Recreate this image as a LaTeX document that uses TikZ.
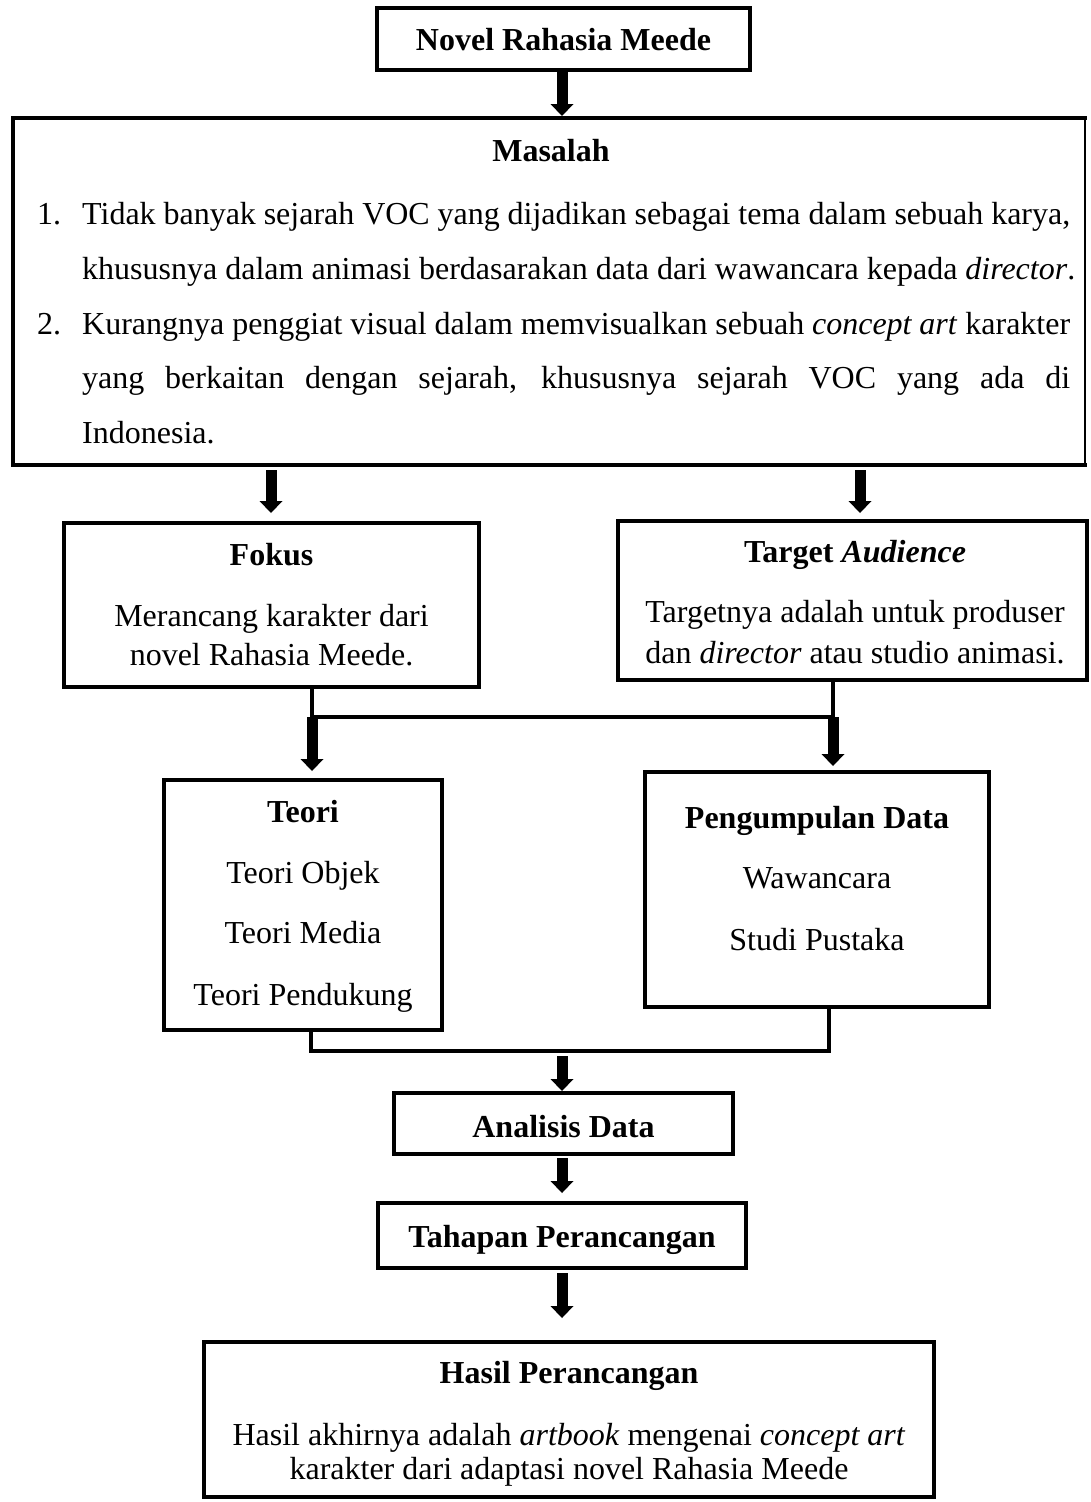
\documentclass[tikz,border=0pt]{standalone}
\usepackage{fontspec}
\setmainfont{Liberation Serif}
\usetikzlibrary{arrows.meta}
\begin{document}
\begin{tikzpicture}[x=1pt,y=-1pt,
  box/.style={draw, line width=4pt, inner sep=0pt, outer sep=0pt, rectangle},
  txt/.style={anchor=base, inner sep=0pt, font=\fontsize{32}{38}\selectfont},
  ttl/.style={txt, font=\fontsize{32}{38}\selectfont\bfseries},
  conn/.style={line width=4pt},
  arr/.style={line width=11pt, -{Triangle[width=23pt,length=12pt,line width=0pt]}}]
\fill[white] (0,0) rectangle (1090,1502);
\useasboundingbox (0,0) rectangle (1090,1502);

% boxes
\node[box, minimum width=373pt, minimum height=62pt] (novel) at (563.5,39) {};
\node[inner sep=0pt, outer sep=0pt, minimum width=1072pt, minimum height=347pt] (masalah) at (549,291.5) {};
\draw[line width=4pt, line cap=rect] (masalah.north east) -- (masalah.north west) -- (masalah.south west) -- (masalah.south east);
\draw[line width=2pt] (masalah.south east) -- (masalah.north east);
\node[box, minimum width=415pt, minimum height=164pt] (fokus) at (271.5,605) {};
\node[box, minimum width=469pt, minimum height=159pt] (target) at (852.5,600.5) {};
\node[box, minimum width=278pt, minimum height=250pt] (teori) at (303,905) {};
\node[box, minimum width=344pt, minimum height=235pt] (pengumpulan) at (817,889.5) {};
\node[box, minimum width=339pt, minimum height=61pt] (analisis) at (563.5,1123.5) {};
\node[box, minimum width=368pt, minimum height=65pt] (tahapan) at (562,1235.5) {};
\node[box, minimum width=730pt, minimum height=155pt] (hasil) at (569,1419.5) {};

% texts
\node[ttl] (novelT) at (563.5,50) {Novel Rahasia Meede};
\node[ttl] (masalahT) at (551,161) {Masalah};
\node[txt, anchor=base west] (n1) at (37,224) {1.};
\node[txt, anchor=base west] (l1) at (82,224) {\makebox[988pt][s]{Tidak banyak sejarah VOC yang dijadikan sebagai tema dalam sebuah karya,}};
\node[txt, anchor=base west] (l2) at (82,279) {khususnya dalam animasi berdasarakan data dari wawancara kepada \textit{director}.};
\node[txt, anchor=base west] (n2) at (37,334) {2.};
\node[txt, anchor=base west] (l3) at (82,334) {\makebox[988pt][s]{Kurangnya penggiat visual dalam memvisualkan sebuah \textit{concept art} karakter}};
\node[txt, anchor=base west] (l4) at (82,388) {\makebox[988pt][s]{yang berkaitan dengan sejarah, khususnya sejarah VOC yang ada di}};
\node[txt, anchor=base west] (l5) at (82,443) {Indonesia.};

\node[ttl] (fokusT) at (271.5,565) {Fokus};
\node[txt] (fokus1) at (271.5,626) {Merancang karakter dari};
\node[txt] (fokus2) at (271.5,665) {novel Rahasia Meede.};

\node[ttl] (targetT) at (855,562) {Target \textit{Audience}};
\node[txt] (target1) at (855,622) {Targetnya adalah untuk produser};
\node[txt] (target2) at (855,663) {dan \textit{director} atau studio animasi.};

\node[ttl] (teoriT) at (303,822) {Teori};
\node[txt] (teori1) at (303,883) {Teori Objek};
\node[txt] (teori2) at (303,943) {Teori Media};
\node[txt] (teori3) at (303,1005) {Teori Pendukung};

\node[ttl] (pengT) at (817,828) {Pengumpulan Data};
\node[txt] (peng1) at (817,888) {Wawancara};
\node[txt] (peng2) at (817,950) {Studi Pustaka};

\node[ttl] (analisisT) at (563.5,1137) {Analisis Data};
\node[ttl] (tahapanT) at (562,1247) {Tahapan Perancangan};

\node[ttl] (hasilT) at (569,1383) {Hasil Perancangan};
\node[txt] (hasil1) at (569,1445) {Hasil akhirnya adalah \textit{artbook} mengenai \textit{concept art}};
\node[txt] (hasil2) at (569,1479) {karakter dari adaptasi novel Rahasia Meede};

% connectors
\coordinate (a1s) at (562,71);
\draw[arr, shorten >=2pt] (a1s) -- (a1s |- masalah.north);
\coordinate (a2s) at (271,470);
\draw[arr, shorten >=10pt] (a2s) -- (a2s |- fokus.north);
\coordinate (a3s) at (860,470);
\draw[arr, shorten >=8pt] (a3s) -- (a3s |- target.north);
\coordinate (j1) at (312,717);
\coordinate (j2) at (833,717);
\draw[conn] (j1 |- fokus.south) -- (j1) -- (j2) -- (j2 |- target.south);
\draw[arr, shorten >=9pt] (j1) -- (j1 |- teori.north);
\draw[arr, shorten >=6pt] (j2) -- (j2 |- pengumpulan.north);
\coordinate (j3) at (311,1051);
\coordinate (j4) at (829,1051);
\draw[conn] (j3 |- teori.south) -- (j3) -- (j4) -- (j4 |- pengumpulan.south);
\coordinate (a6s) at (562,1056);
\draw[arr, shorten >=2pt] (a6s) -- (a6s |- analisis.north);
\coordinate (a7s) at (562,1158);
\draw[arr, shorten >=10pt] (a7s) -- (a7s |- tahapan.north);
\coordinate (a8s) at (562,1273);
\draw[arr, shorten >=24pt] (a8s) -- (a8s |- hasil.north);
\end{tikzpicture}
\end{document}
